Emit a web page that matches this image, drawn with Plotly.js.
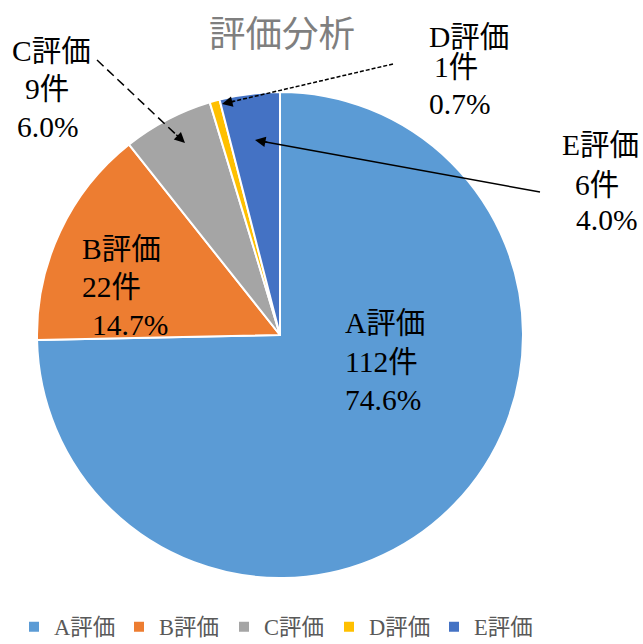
<!DOCTYPE html>
<html>
<head>
<meta charset="utf-8">
<script src="https://cdn.plot.ly/plotly-3.0.1.min.js"></script>
<style>html,body{margin:0;padding:0;background:#fff;}#chart{width:643px;height:644px;}</style>
</head>
<body>
<div id="chart"></div>
<script>
// ---- data ----
var categories = ['A評価', 'B評価', 'C評価', 'D評価', 'E評価'];
var counts = [112, 22, 9, 1, 6];
var percentLabels = ['74.6%', '14.7%', '6.0%', '0.7%', '4.0%'];
var sliceColors = ['#5B9BD5', '#ED7D31', '#A5A5A5', '#FFC000', '#4472C4'];
var chartTitle = '評価分析';

// ---- layout constants (pixels) ----
var W = 643, H = 644;
var M = {l: 0, r: 0, t: 92, b: 66};
var PW = W - M.l - M.r, PH = H - M.t - M.b;
var PIE_L = 37, PIE_R = 523;
function px(x) { return (x - M.l) / PW; }
function py(y) { return (H - M.b - y) / PH; }

var FONT = '"Liberation Serif", "Times New Roman", "DejaVu Serif", "Noto Sans CJK JP", serif';

// label line positions: [x-left, y-center] for each line
var labelLines = [
  [[343, 323], [343, 362], [343, 400]],
  [[80, 249], [80, 287], [90, 325]],
  [[10, 51], [23, 89], [15, 127]],
  [[427, 37], [432, 67], [427, 104]],
  [[560, 145], [573, 185], [574, 220]]
];
// leader lines: [tailX, tailY, tipX, tipY, dash] (null = none)
var leaders = [null, null,
  [97, 60, 185, 143, 'dash'],
  [393, 64, 222, 104, 'dot'],
  [540, 192, 255, 140, 'solid']
];

var annotations = [];
var shapes = [];
categories.forEach(function (c, i) {
  var lines = [c, counts[i] + '件', percentLabels[i]];
  lines.forEach(function (t, k) {
    annotations.push({
      text: t, xref: 'paper', yref: 'paper',
      x: px(labelLines[i][k][0]), y: py(labelLines[i][k][1]),
      xanchor: 'left', yanchor: 'middle', showarrow: false,
      font: {family: FONT, size: 29.5, color: '#000000'}
    });
  });
  var L = leaders[i];
  if (L) {
    var dx = L[0] - L[2], dy = L[1] - L[3];
    var len = Math.sqrt(dx * dx + dy * dy);
    shapes.push({
      type: 'line', xref: 'paper', yref: 'paper',
      x0: px(L[0]), y0: py(L[1]), x1: px(L[2] + dx / len * 8), y1: py(L[3] + dy / len * 8),
      line: {color: '#000000', width: 1.5, dash: L[4] === 'dot' ? '4px,2px' : (L[4] === 'dash' ? '9px,5px' : 'solid')}
    });
    annotations.push({
      text: '', xref: 'paper', yref: 'paper',
      x: px(L[2]), y: py(L[3]),
      ax: dx / len * 14, ay: dy / len * 14,
      showarrow: true, arrowhead: 2, arrowsize: 1.4, arrowwidth: 1.5, arrowcolor: '#000000'
    });
  }
});

var trace = {
  type: 'pie',
  labels: categories,
  values: counts,
  sort: false,
  direction: 'clockwise',
  rotation: 0,
  textinfo: 'none',
  hoverinfo: 'label+value+percent',
  domain: {x: [px(PIE_L), px(PIE_R)], y: [0, 1]},
  marker: {colors: sliceColors, line: {color: '#ffffff', width: 2}}
};

var layout = {
  width: W, height: H,
  margin: {l: M.l, r: M.r, t: M.t, b: M.b, autoexpand: false},
  paper_bgcolor: '#ffffff',
  title: {
    text: chartTitle, xref: 'container', yref: 'container',
    x: 282 / W, y: 1 - 34 / H, xanchor: 'center', yanchor: 'middle',
    font: {family: FONT, size: 36.5, color: '#7f7f7f'}
  },
  showlegend: true,
  legend: {
    orientation: 'h', xref: 'paper', yref: 'paper',
    x: px(14), y: py(627), xanchor: 'left', yanchor: 'middle',
    entrywidth: 60, entrywidthmode: 'pixels',
    font: {family: FONT, size: 22.5, color: '#595959'},
    traceorder: 'normal'
  },
  annotations: annotations,
  shapes: shapes
};

Plotly.newPlot('chart', [trace], layout, {displayModeBar: false, staticPlot: true});
</script>
</body>
</html>
